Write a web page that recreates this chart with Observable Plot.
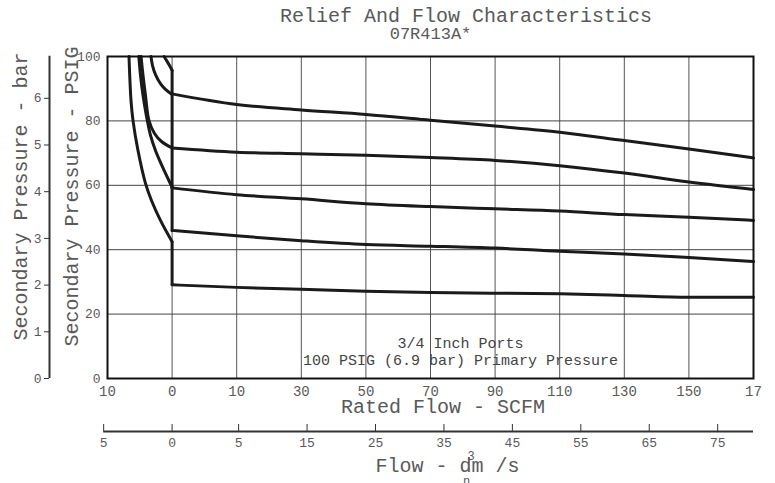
<!DOCTYPE html>
<html><head><meta charset="utf-8">
<script src="https://cdn.jsdelivr.net/npm/d3@7"></script>
<script src="https://cdn.jsdelivr.net/npm/@observablehq/plot@0.6"></script>
<style>body{margin:0;background:#fff;} svg{display:block}</style>
</head><body>
<script>
// ---- texts ----
const titleText = "Relief And Flow Characteristics";
const subtitleText = "07R413A*";
const xTitle = "Rated Flow - SCFM";
const yTitlePsig = "Secondary Pressure - PSIG";
const yTitleBar = "Secondary Pressure - bar";
const flowTitle = "Flow - dm /s";
const flowSup = "3";
const flowSub = "n";
const annotationLines = ["3/4 Inch Ports", "100 PSIG (6.9 bar) Primary Pressure"];

// ---- ticks ----
const xTickValues = [-10, 0, 10, 30, 50, 70, 90, 110, 130, 150, 170];
const xTickLabels = ["10", "0", "10", "30", "50", "70", "90", "110", "130", "150", "17"];
const xGridValues = [0, 10, 30, 50, 70, 90, 110, 130, 150];
const yTickValues = [0, 20, 40, 60, 80, 100];
const yGridValues = [20, 40, 60, 80];
const barTickValues = [0, 1, 2, 3, 4, 5, 6];
const barAxisMax = 6.9;
const dm3TickValues = [-5, 0, 5, 15, 25, 35, 45, 55, 65, 75];
const dm3TickLabels = ["5", "0", "5", "15", "25", "35", "45", "55", "65", "75"];

const PSI_PER_BAR = 14.5038;
const DM3S_PER_SCFM = 0.4719474;

// ---- flow curves (SCFM vs PSIG) ----
const flowScfm = [0, 10, 30, 50, 70, 90, 110, 130, 150, 170];
const flowPsi1 = [88.4, 85.1, 83.4, 82.0, 80.2, 78.4, 76.5, 73.9, 71.3, 68.5];
const flowPsi2 = [71.6, 70.3, 69.8, 69.3, 68.6, 67.7, 66.1, 63.8, 61.0, 58.7];
const flowPsi3 = [59.2, 57.1, 55.8, 54.3, 53.4, 52.7, 52.0, 50.9, 50.1, 49.1];
const flowPsi4 = [46.0, 44.3, 42.8, 41.6, 41.1, 40.5, 39.5, 38.7, 37.6, 36.3];
const flowPsi5 = [29.1, 28.3, 27.7, 27.1, 26.7, 26.5, 26.3, 25.8, 25.2, 25.2];

// ---- relief curves (negative SCFM vs PSIG) ----
const reliefScfm1 = [-1.25, -0.87, -0.40, 0];
const reliefPsi1  = [100, 98.8, 97.2, 95.7];
const reliefScfm2 = [-3.27, -3.03, -2.57, -1.80, -1.02, 0];
const reliefPsi2  = [100, 97.2, 94.4, 91.6, 89.8, 88.2];
const reliefScfm3 = [-4.81, -4.50, -4.12, -3.58, -2.72, -1.64, 0];
const reliefPsi3  = [100, 94.1, 87.9, 80.1, 76.1, 73.6, 71.6];
const reliefScfm4 = [-5.15, -4.89, -4.50, -3.96, -3.34, -2.57, -1.80, -1.02, 0];
const reliefPsi4  = [100, 94.1, 87.9, 81.4, 75.5, 70.8, 67.1, 63.7, 59.4];
const reliefScfm5 = [-6.67, -6.36, -6.05, -5.28, -4.12, -3.19, -1.80, 0];
const reliefPsi5  = [100, 86.3, 80.1, 70.8, 60.6, 55.3, 49.1, 42.5];

const series = [
  {id: 1, rs: reliefScfm1, rp: reliefPsi1, fp: flowPsi1},
  {id: 2, rs: reliefScfm2, rp: reliefPsi2, fp: flowPsi2},
  {id: 3, rs: reliefScfm3, rp: reliefPsi3, fp: flowPsi3},
  {id: 4, rs: reliefScfm4, rp: reliefPsi4, fp: flowPsi4},
  {id: 5, rs: reliefScfm5, rp: reliefPsi5, fp: flowPsi5}
];
const reliefRows = series.flatMap(s => s.rs.map((x, i) => ({id: s.id, x, y: s.rp[i]})));
const vertRows = series.flatMap(s => [
  {id: s.id, x: s.rs[s.rs.length - 1], y: s.rp[s.rp.length - 1]},
  {id: s.id, x: flowScfm[0], y: s.fp[0]}
]);
const flowRows = series.flatMap(s => flowScfm.map((x, i) => ({id: s.id, x, y: s.fp[i]})));

const barTickPsi = barTickValues.map(b => b * PSI_PER_BAR);
const dm3TickPos = dm3TickValues.map(v => v / DM3S_PER_SCFM);

// layout
const W = 775, H = 483;
const mL = 107, mR = 22, mT = 56, mB = 105;
const frameL = mL, frameR = W - mR;
const FONT = "Liberation Mono, DejaVu Sans Mono, monospace";
const TXT = "#595959";
const lineStyle = {x: "x", y: "y", z: "id", stroke: "#1a1a1a", strokeWidth: 3, strokeLinecap: "round", strokeLinejoin: "round"};

const svg = Plot.plot({
  width: W, height: H,
  marginLeft: mL, marginRight: mR, marginTop: mT, marginBottom: mB,
  style: {fontFamily: FONT, background: "white"},
  x: {type: "linear", domain: [-10, 10, 170], range: [frameL, frameL + (frameR - frameL) * 0.2, frameR]},
  y: {domain: [0, 100]},
  marks: [
    Plot.gridX(xGridValues, {stroke: "#555", strokeOpacity: 1, strokeWidth: 1}),
    Plot.gridY(yGridValues, {stroke: "#444", strokeOpacity: 1, strokeWidth: 1}),
    Plot.text([annotationLines.join("\n")], {frameAnchor: "bottom", dx: 30, dy: -14, lineAnchor: "bottom", fontSize: 15, lineHeight: 1.11, fill: "#444", ariaLabel: "annotation"}),
    Plot.line(reliefRows, {...lineStyle, curve: "catmull-rom"}),
    Plot.line(vertRows, {...lineStyle, curve: "linear"}),
    Plot.line(flowRows, {...lineStyle, curve: "monotone-x"}),
    Plot.frame({stroke: "#111", strokeWidth: 2}),
    Plot.axisX({ticks: xTickValues, tickFormat: d => xTickLabels[xTickValues.indexOf(d)], tickSize: 0, tickPadding: 8, fontSize: 14, fill: TXT, label: null}),
    Plot.axisY({ticks: yTickValues, tickSize: 0, tickPadding: 7, fontSize: 13, fill: TXT, label: null}),
    Plot.axisY({ticks: barTickPsi, tickFormat: d => String(barTickValues[barTickPsi.indexOf(d)]), anchor: "left", dx: -58, tickSize: 5, tickPadding: 3, fontSize: 13, fill: TXT, stroke: "#333", label: null}),
    Plot.ruleX([-10], {y1: 0, y2: barAxisMax * PSI_PER_BAR, dx: -58, stroke: "#333", strokeWidth: 2}),
    Plot.axisX({ticks: dm3TickPos, tickFormat: d => dm3TickLabels[dm3TickPos.indexOf(d)], anchor: "bottom", dy: 53, tickSize: -7, tickPadding: 13, fontSize: 13, fill: TXT, stroke: "#333", label: null}),
    Plot.ruleY([0], {x1: dm3TickPos[0], x2: 170, dy: 53, stroke: "#333", strokeWidth: 2})
  ]
});
document.body.append(svg);

// white background behind annotation
const ann = svg.querySelector('[aria-label="annotation"]');
if (ann) {
  const bb = ann.getBBox();
  const r = d3.select(svg).insert("rect", '[aria-label="annotation"]')
    .attr("x", bb.x - 4).attr("y", bb.y - 4)
    .attr("width", bb.width + 6).attr("height", bb.height + 6)
    .attr("fill", "white");
  if (ann.getAttribute("transform")) r.attr("transform", ann.getAttribute("transform"));
}

// titles
const tg = d3.select(svg).append("g").attr("fill", TXT).attr("font-family", FONT);
tg.append("text").attr("x", 466).attr("y", 21.5).attr("text-anchor", "middle").attr("font-size", 20).text(titleText);
tg.append("text").attr("x", 430.5).attr("y", 39).attr("text-anchor", "middle").attr("font-size", 17).text(subtitleText);
tg.append("text").attr("x", 443).attr("y", 412.5).attr("text-anchor", "middle").attr("font-size", 20).text(xTitle);
tg.append("text").attr("x", 447.5).attr("y", 471.5).attr("text-anchor", "middle").attr("font-size", 20).attr("xml:space", "preserve").style("white-space", "pre").text(flowTitle);
tg.append("text").attr("x", 471).attr("y", 460).attr("text-anchor", "middle").attr("font-size", 12).text(flowSup);
tg.append("text").attr("x", 466.5).attr("y", 485).attr("text-anchor", "middle").attr("font-size", 12).text(flowSub);
tg.append("text").attr("transform", "translate(27,196.5) rotate(-90)").attr("text-anchor", "middle").attr("font-size", 20).text(yTitleBar);
tg.append("text").attr("transform", "translate(78,196.5) rotate(-90)").attr("text-anchor", "middle").attr("font-size", 20).text(yTitlePsig);
</script>
</body></html>
